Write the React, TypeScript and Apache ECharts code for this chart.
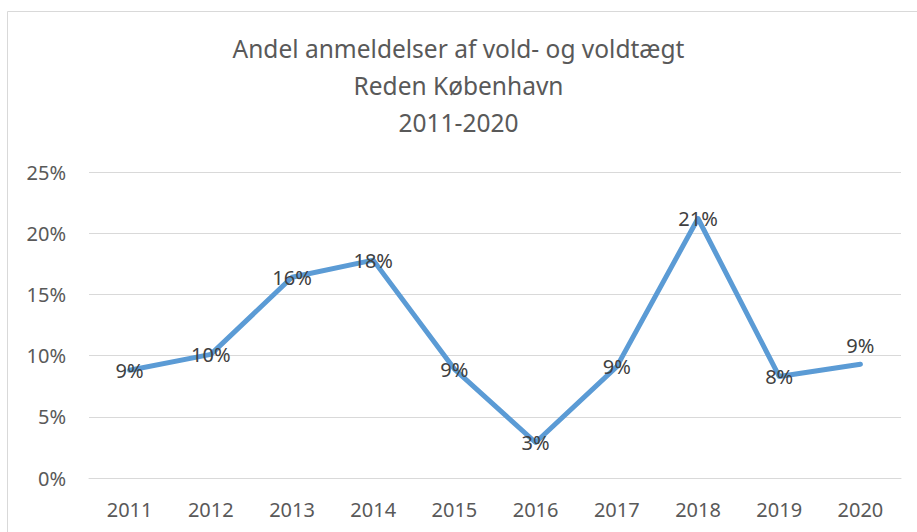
import React, { useEffect, useRef } from "react";
import * as echarts from "echarts";

const titleLines = ["Andel anmeldelser af vold- og voldtægt", "Reden København", "2011-2020"];
const years = ["2011", "2012", "2013", "2014", "2015", "2016", "2017", "2018", "2019", "2020"];
const shares = [8.8, 10.1, 16.4, 17.8, 8.9, 2.9, 9.1, 21.2, 8.3, 9.3];
const labelAbove = ["2020"];
const yMin = 0;
const yMax = 25;
const yStep = 5;

const FONT = "'Noto Sans', sans-serif";

export default function App() {
  const ref = useRef<HTMLDivElement>(null);
  useEffect(() => {
    if (!ref.current) return;
    const chart = echarts.init(ref.current, undefined, { renderer: "svg" });
    chart.setOption({
      animation: false,
      backgroundColor: "#ffffff",
      textStyle: { fontFamily: FONT },
      graphic: [
        {
          type: "rect",
          shape: { x: 7.5, y: 11.5, width: 940, height: 560 },
          style: { fill: "none", stroke: "#d9d9d9", lineWidth: 1 },
          silent: true,
        },
      ],
      title: {
        text: titleLines.join("\n"),
        left: "center",
        top: 30,
        padding: 0,
        textStyle: {
          fontFamily: FONT,
          fontSize: 24.5,
          fontWeight: "normal",
          color: "#595959",
          lineHeight: 37,
        },
      },
      grid: { left: 89, right: 16, top: 172, bottom: 54, containLabel: false },
      xAxis: {
        type: "category",
        data: years,
        boundaryGap: true,
        axisLine: { show: true, lineStyle: { color: "#d9d9d9", width: 1 } },
        axisTick: { show: false },
        axisLabel: { color: "#595959", fontSize: 20, fontFamily: FONT, margin: 21 },
      },
      yAxis: {
        type: "value",
        min: yMin,
        max: yMax,
        interval: yStep,
        axisLine: { show: false },
        axisTick: { show: false },
        splitLine: { lineStyle: { color: "#d9d9d9", width: 1 } },
        axisLabel: {
          color: "#595959",
          fontSize: 20,
          fontFamily: FONT,
          margin: 23,
          formatter: "{value}%",
        },
      },
      series: [
        {
          type: "line",
          data: shares.map((v, i) => ({
            value: v,
            label: {
              position: labelAbove.includes(years[i]) ? "top" : "inside",
              distance: 8,
            },
          })),
          symbol: "circle",
          symbolSize: 1,
          showSymbol: true,
          itemStyle: { color: "#5b9bd5" },
          lineStyle: { color: "#5b9bd5", width: 5, cap: "round", join: "round" },
          label: {
            show: true,
            color: "#404040",
            fontSize: 20,
            fontFamily: FONT,
            formatter: (p: any) => Math.round(p.value) + "%",
          },
        },
      ],
    });
    return () => chart.dispose();
  }, []);
  return <div ref={ref} style={{ width: 917, height: 532, position: "absolute", left: 0, top: 0 }} />;
}
